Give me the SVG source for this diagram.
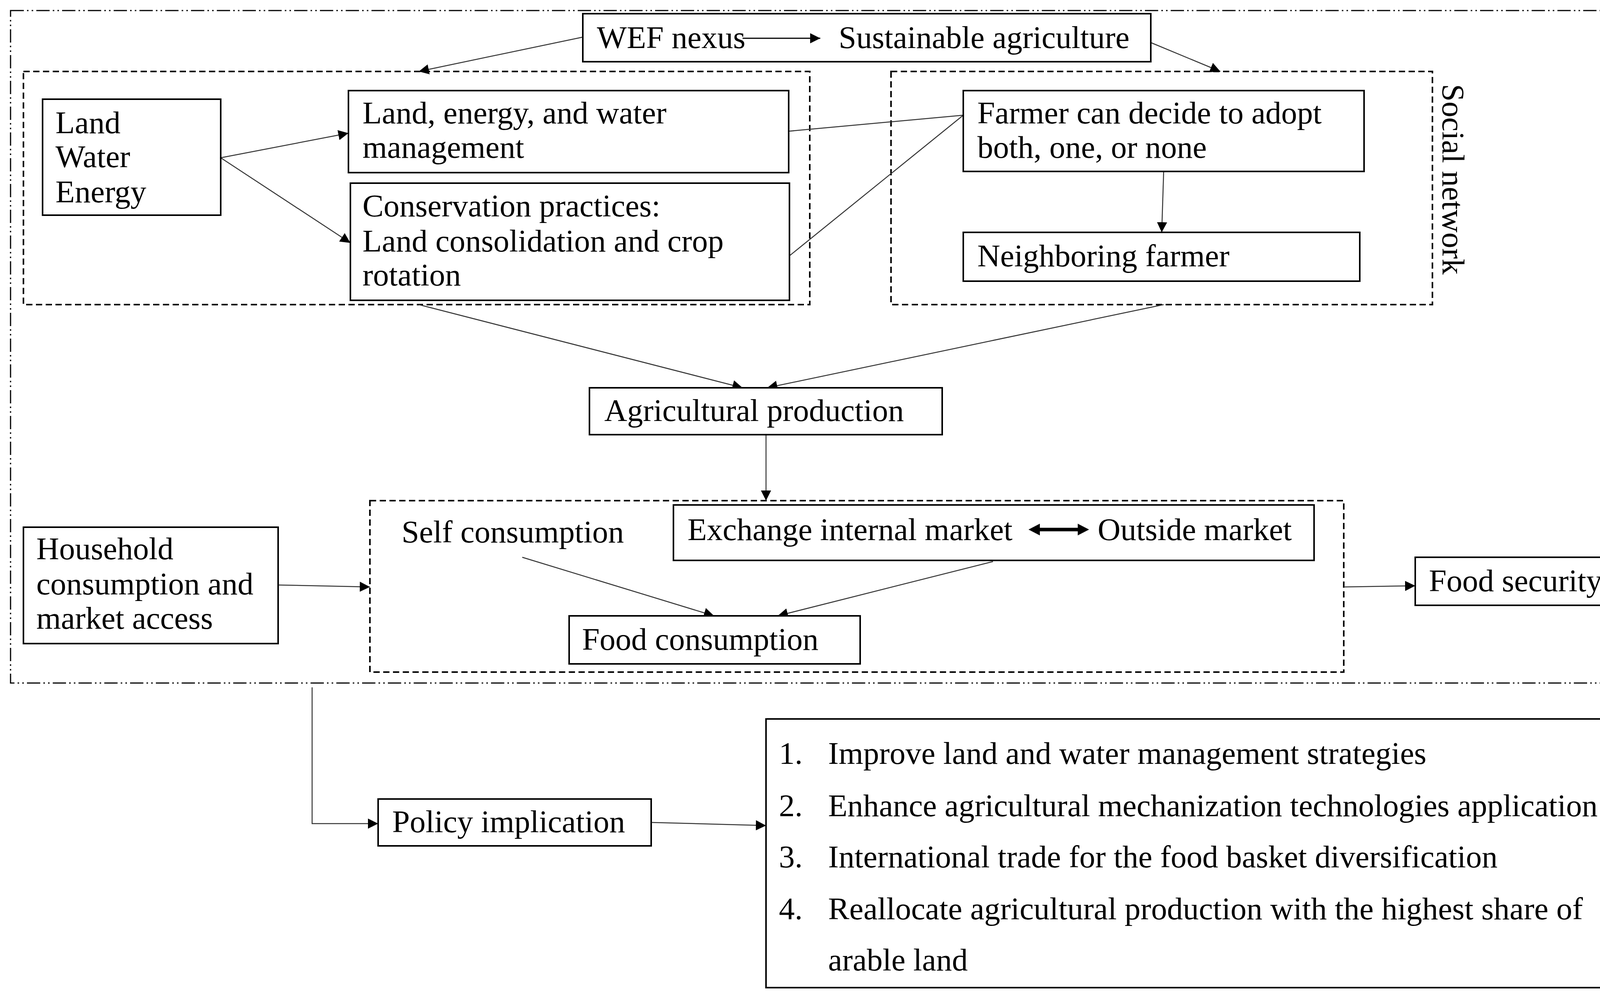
<svg xmlns="http://www.w3.org/2000/svg" width="4277" height="2553" viewBox="0 0 4277 2553">
<defs>
<marker id="ahb" viewBox="0 0 10 10" refX="10" refY="5" markerWidth="26" markerHeight="26" markerUnits="userSpaceOnUse" orient="auto"><path d="M0,0 L10,5 L0,10 z" fill="#000"/></marker>
<style>
text{font-family:"Liberation Serif",serif;font-size:81px;fill:#000}
.box{fill:#fff;stroke:#000;stroke-width:4}
.dash{fill:none;stroke:#000;stroke-width:4;stroke-dasharray:16 9}
.dd{fill:none;stroke:#000;stroke-width:3;stroke-dasharray:34 8 4 8 4 8}
.c{fill:none;stroke:#333;stroke-width:2.5}
.a{marker-end:url(#ahb)}
</style>
</defs>
<rect width="4277" height="2553" fill="#fff"/>
<rect class="dd" x="27" y="27" width="4226" height="1722"/>
<rect class="dash" x="60" y="183" width="2013" height="597"/>
<rect class="dash" x="2281" y="183" width="1386" height="597"/>
<rect class="dash" x="947" y="1282" width="2493" height="439"/>
<text transform="translate(3693,215) rotate(90)">Social network</text>
<g id="connectors">
<line class="c a" x1="1492" y1="95" x2="1072" y2="183"/>
<line class="c a" x1="2946" y1="109" x2="3124" y2="183"/>
<line class="c a" x1="565" y1="404" x2="892" y2="341"/>
<line class="c a" x1="565" y1="404" x2="897" y2="622"/>
<line class="c" x1="2019" y1="336" x2="2466" y2="295"/>
<line class="c" x1="2021" y1="655" x2="2466" y2="295"/>
<line class="c a" x1="2979" y1="439" x2="2974" y2="595"/>
<line class="c a" x1="1072" y1="780" x2="1901" y2="993"/>
<line class="c a" x1="2979" y1="780" x2="1964" y2="993"/>
<line class="c a" x1="1961" y1="1113" x2="1961" y2="1282"/>
<line class="c a" x1="1337" y1="1427" x2="1828" y2="1577"/>
<line class="c a" x1="2542" y1="1438" x2="1991" y2="1577"/>
<line class="c a" x1="712" y1="1498" x2="947" y2="1503"/>
<line class="c a" x1="3440" y1="1503" x2="3623" y2="1500"/>
<path class="c a" d="M799,1760 L799,2109 L968,2109"/>
<line class="c a" x1="1667" y1="2106" x2="1961" y2="2114"/>
</g>
<g id="wef"><rect class="box" x="1492" y="35" width="1454" height="123"/><text x="1528" y="123">WEF nexus</text><text x="2147" y="123">Sustainable agriculture</text>
<line class="c a" x1="1901" y1="98" x2="2100" y2="98" style="stroke:#000;stroke-width:3"/></g>
<g id="lwe"><rect class="box" x="109" y="254" width="456" height="297"/><text x="142" y="341">Land</text><text x="142" y="428">Water</text><text x="142" y="518">Energy</text></g>
<g id="mgmt"><rect class="box" x="892" y="232" width="1127" height="210"/><text x="928" y="316">Land, energy, and water</text><text x="928" y="404">management</text></g>
<g id="cons"><rect class="box" x="897" y="469" width="1124" height="300"/><text x="928" y="554">Conservation practices:</text><text x="928" y="644">Land consolidation and crop</text><text x="928" y="731">rotation</text></g>
<g id="farmer"><rect class="box" x="2466" y="232" width="1026" height="207"/><text x="2502" y="316">Farmer can decide to adopt</text><text x="2502" y="404">both, one, or none</text></g>
<g id="neighbor"><rect class="box" x="2466" y="595" width="1015" height="125"/><text x="2502" y="682">Neighboring farmer</text></g>
<g id="agri"><rect class="box" x="1509" y="993" width="903" height="120"/><text x="1547" y="1078">Agricultural production</text></g>
<g id="exchange"><rect class="box" x="1724" y="1293" width="1640" height="142"/><text x="1760" y="1383">Exchange internal market</text><text x="2810" y="1383">Outside market</text>
<line x1="2655" y1="1356" x2="2766" y2="1356" stroke="#000" stroke-width="9"/>
<path d="M2633,1356 L2662,1341 L2662,1371 z M2788,1356 L2759,1341 L2759,1371 z" fill="#000"/></g>
<g id="self"><text x="1028" y="1389">Self consumption</text></g>
<g id="foodcons"><rect class="box" x="1457" y="1577" width="745" height="123"/><text x="1490" y="1664">Food consumption</text></g>
<g id="household"><rect class="box" x="60" y="1350" width="652" height="298"/><text x="93" y="1432">Household</text><text x="93" y="1522">consumption and</text><text x="93" y="1610">market access</text></g>
<g id="foodsec"><rect class="box" x="3623" y="1427" width="548" height="123"/><text x="3658" y="1514">Food security</text></g>
<g id="policy"><rect class="box" x="968" y="2046" width="699" height="120"/><text x="1004" y="2131">Policy implication</text></g>
<g id="list"><rect class="box" x="1961" y="1841" width="2295" height="688"/>
<text x="1994" y="1956">1.</text><text x="2120" y="1956">Improve land and water management strategies</text>
<text x="1994" y="2090">2.</text><text x="2120" y="2090" textLength="1970" lengthAdjust="spacingAndGlyphs">Enhance agricultural mechanization technologies application</text>
<text x="1994" y="2221">3.</text><text x="2120" y="2221">International trade for the food basket diversification</text>
<text x="1994" y="2354">4.</text><text x="2120" y="2354" textLength="1932" lengthAdjust="spacingAndGlyphs">Reallocate agricultural production with the highest share of</text>
<text x="2120" y="2485">arable land</text></g>
</svg>
